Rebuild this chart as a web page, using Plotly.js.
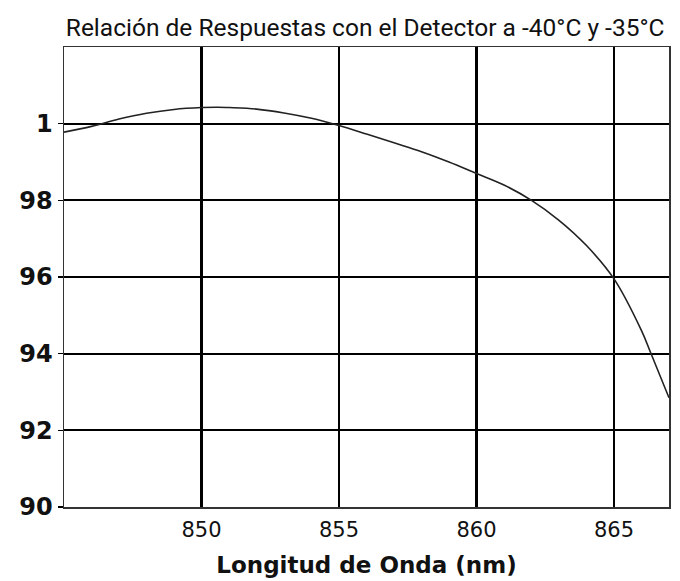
<!DOCTYPE html>
<html>
<head>
<meta charset="utf-8">
<script src="https://cdn.plot.ly/plotly-3.0.1.min.js"></script>
<style>html,body{margin:0;padding:0;background:#fff;}#chart{width:680px;height:581px;}</style>
</head>
<body>
<div id="chart"></div>
<script>
const wavelength = [845, 846, 847, 848, 849, 850, 850.6, 851, 852, 853, 854, 855, 856, 857, 858, 859, 860, 861, 862, 863, 864, 865, 866, 866.33, 867];
const ratio = [99.78, 99.93, 100.12, 100.27, 100.37, 100.42, 100.43, 100.42, 100.38, 100.28, 100.14, 99.95, 99.73, 99.50, 99.27, 99.0, 98.70, 98.40, 98.00, 97.48, 96.82, 95.95, 94.6, 94.03, 92.85];
const yTickVals = [90, 92, 94, 96, 98, 100];
const yTickText = ['90', '92', '94', '96', '98', '1'];
const xTickVals = [850, 855, 860, 865];
const xTickText = ['850', '855', '860', '865'];

const trace = {
  x: wavelength, y: ratio, type: 'scatter', mode: 'lines',
  line: {color: '#222', width: 1.6, shape: 'spline', smoothing: 1},
  hoverinfo: 'skip'
};
const layout = {
  width: 680, height: 581,
  margin: {l: 64, r: 11, t: 47, b: 74},
  paper_bgcolor: '#fff', plot_bgcolor: '#fff',
  showlegend: false,
  title: {text: 'Relación de Respuestas con el Detector a -40°C y -35°C',
    font: {family: 'Roboto, sans-serif', size: 24.5, color: '#111', stretch: 'condensed'},
    x: 0.537, xanchor: 'center', y: 0.953, yanchor: 'middle'},
  xaxis: {range: [845, 867], tickvals: xTickVals, ticktext: xTickText,
    showgrid: true, gridcolor: '#000', gridwidth: 2.5, zeroline: false,
    showline: true, linecolor: '#333', linewidth: 1.5, mirror: true,
    ticks: '', ticklabelstandoff: 3, tickfont: {family: 'DejaVu Sans, sans-serif', size: 21, color: '#111'},
    title: {text: '<b>Longitud de Onda (nm)</b>', font: {family: 'DejaVu Sans, sans-serif', size: 23, color: '#111'}, standoff: 16}},
  yaxis: {range: [90, 102], tickvals: yTickVals, ticktext: yTickText,
    showgrid: true, gridcolor: '#000', gridwidth: 2, zeroline: false,
    showline: true, linecolor: '#333', linewidth: 1.5, mirror: true,
    ticks: 'outside', ticklen: 5, tickwidth: 1.5, tickcolor: '#000',
    tickfont: {family: 'DejaVu Sans, sans-serif', size: 24, color: '#111', weight: 'bold'}}
};
Plotly.newPlot('chart', [trace], layout, {staticPlot: true, displayModeBar: false});
</script>
</body>
</html>
